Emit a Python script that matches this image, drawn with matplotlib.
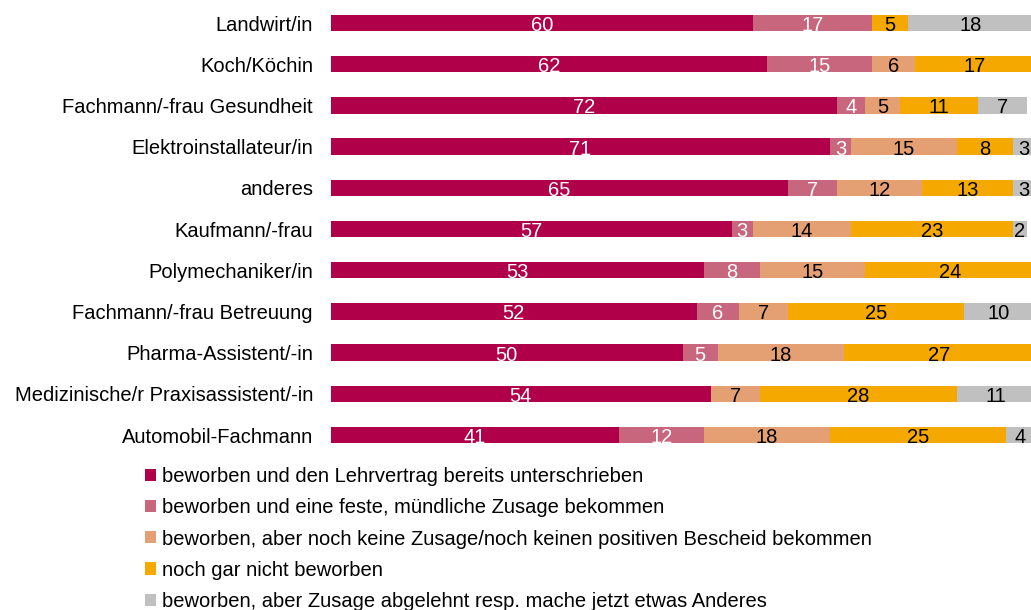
import numpy as np
import matplotlib.pyplot as plt
from matplotlib.patches import Patch

plt.rcParams['font.family'] = ['Liberation Sans', 'DejaVu Sans']

categories = ['Landwirt/in', 'Koch/Köchin', 'Fachmann/-frau Gesundheit',
              'Elektroinstallateur/in', 'anderes', 'Kaufmann/-frau',
              'Polymechaniker/in', 'Fachmann/-frau Betreuung',
              'Pharma-Assistent/-in', 'Medizinische/r Praxisassistent/-in',
              'Automobil-Fachmann']

unterschrieben = [60, 62, 72, 71, 65, 57, 53, 52, 50, 54, 41]
muendlich = [17, 15, 4, 3, 7, 3, 8, 6, 5, 0, 12]
keine_zusage = [0, 6, 5, 15, 12, 14, 15, 7, 18, 7, 18]
nicht_beworben = [5, 17, 11, 8, 13, 23, 24, 25, 27, 28, 25]
abgelehnt = [18, 0, 7, 3, 3, 2, 0, 10, 0, 11, 4]

series_labels = ['beworben und den Lehrvertrag bereits unterschrieben',
                 'beworben und eine feste, mündliche Zusage bekommen',
                 'beworben, aber noch keine Zusage/noch keinen positiven Bescheid bekommen',
                 'noch gar nicht beworben',
                 'beworben, aber Zusage abgelehnt resp. mache jetzt etwas Anderes']

colors = ['#B0004A', '#C8667E', '#E4A073', '#F5A800', '#C0C0C0']
text_colors = ['white', 'white', 'black', 'black', 'black']

data = [unterschrieben, muendlich, keine_zusage, nicht_beworben, abgelehnt]

fig = plt.figure(figsize=(10.31, 6.10), dpi=100)
ax = fig.add_axes([0.321, 0.253, 0.682, 0.743])

y = np.arange(len(categories))
left = np.zeros(len(categories))
for vals, col, tc in zip(data, colors, text_colors):
    vals = np.array(vals, dtype=float)
    ax.barh(y, vals, left=left, height=0.4, color=col, edgecolor='none')
    for yi, l, v in zip(y, left, vals):
        if v > 0:
            ax.text(l + v / 2, yi + 0.06, f'{int(v)}', ha='center', va='center',
                    color=tc, fontsize=14.5)
    left += vals

ax.set_xlim(0, 100)
ax.set_ylim(len(categories) - 0.5, -0.5)
ax.set_yticks(y)
ax.set_yticklabels(categories, fontsize=14.5)
ax.set_xticks([])
ax.tick_params(axis='y', length=0, pad=13)
for s in ax.spines.values():
    s.set_visible(False)

handles = [Patch(facecolor=c, edgecolor='none') for c in colors]
fig.legend(handles, series_labels, loc='upper left', bbox_to_anchor=(0.133, 0.247),
           frameon=False, fontsize=14.5, handlelength=0.55, handleheight=0.55,
           handletextpad=0.3, labelspacing=0.6, borderaxespad=0)

fig.savefig('out.png', dpi=100)
